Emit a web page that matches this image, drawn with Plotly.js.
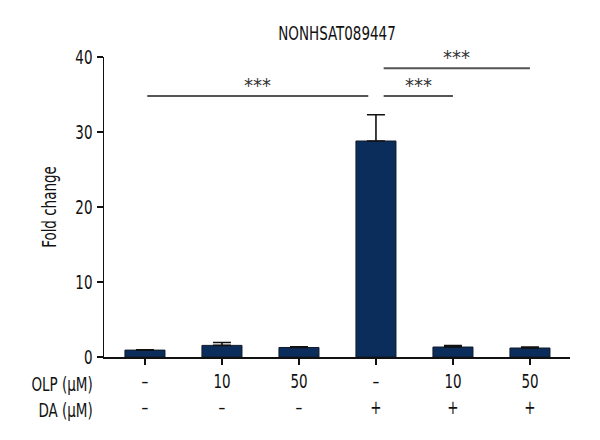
<!DOCTYPE html>
<html>
<head>
<meta charset="utf-8">
<script src="https://cdn.plot.ly/plotly-3.0.1.min.js"></script>
<style>html,body{margin:0;padding:0;background:#fff;}#chart{width:600px;height:440px;}</style>
</head>
<body>
<div id="chart"></div>
<script>
// ---- data ----
var olpLabels = ['–', '10', '50', '–', '10', '50'];
var daLabels  = ['–', '–', '–', '+', '+', '+'];
var foldChange = [0.92, 1.55, 1.27, 28.8, 1.33, 1.2];
var errUp      = [0.03, 0.38, 0.08, 3.5, 0.2, 0.12];
var sigFrom  = [0, 3, 3];
var sigTo    = [3, 4, 5];
var sigLevel = [34.8, 34.8, 38.5];
var sigText  = ['***', '***', '***'];
var titleText = 'NONHSAT089447';
var rowNames = ['OLP (μM)', 'DA (μM)'];

// ---- chart ----
var FONT = '"DejaVu Sans Condensed", "Liberation Sans Narrow", sans-serif';
var FS = 20;
var idx = olpLabels.map(function (_, i) { return i; });
var tickText = idx.map(function (i) { return olpLabels[i] + '<br>' + daLabels[i]; });

var trace = {
  type: 'bar',
  x: idx,
  y: foldChange,
  width: 0.52,
  marker: { color: '#0b2d5b', line: { color: '#111a2a', width: 1 } },
  error_y: { type: 'data', symmetric: false, array: errUp, arrayminus: idx.map(function(){return 0;}),
             color: '#111', thickness: 1.6, width: 9 },
  hoverinfo: 'none'
};

var pivot = 3;
var shapes = [];
var annotations = [];
for (var k = 0; k < sigFrom.length; k++) {
  var a = sigFrom[k], b = sigTo[k];
  var x0 = (a === pivot) ? a + 0.1 : a + 0.03;
  var x1 = (b === pivot) ? b - 0.1 : b;
  shapes.push({ type: 'line', xref: 'x', yref: 'y', x0: x0, x1: x1, y0: sigLevel[k], y1: sigLevel[k],
                line: { color: '#555', width: 2 } });
  annotations.push({ xref: 'x', yref: 'y', x: (x0 + x1) / 2, y: sigLevel[k], text: sigText[k],
                     showarrow: false, yanchor: 'bottom', yshift: -3,
                     font: { family: FONT, size: 20, color: '#333' } });
}
annotations.push({ xref: 'paper', yref: 'paper', x: -0.02, y: 0, xanchor: 'right', yanchor: 'top',
                   yshift: -13, align: 'right', showarrow: false,
                   text: rowNames[0] + '<br>' + rowNames[1],
                   font: { family: FONT, size: FS, color: '#111' } });

var layout = {
  width: 600, height: 440,
  margin: { l: 104, r: 30, t: 57, b: 83 },
  paper_bgcolor: '#fff', plot_bgcolor: '#fff',
  font: { family: FONT, size: FS, color: '#111' },
  showlegend: false,
  title: { text: titleText, x: 0.5, xref: 'paper', y: 0.925, yref: 'container', yanchor: 'middle',
           font: { family: FONT, size: FS, color: '#111' } },
  xaxis: {
    range: [-0.532, 5.52], tickvals: idx, ticktext: tickText,
    showgrid: false, zeroline: false, showline: true, linecolor: '#111', linewidth: 1.5,
    ticks: 'outside', ticklen: 6, tickwidth: 1.5, tickcolor: '#111',
    tickfont: { family: FONT, size: FS, color: '#111' }
  },
  yaxis: {
    range: [0, 40], tickvals: [0, 10, 20, 30, 40],
    showgrid: false, zeroline: false, showline: true, linecolor: '#111', linewidth: 1.5,
    ticks: 'outside', ticklen: 6, tickwidth: 1.5, tickcolor: '#111',
    tickfont: { family: FONT, size: FS, color: '#111' },
    title: { text: 'Fold change', standoff: 7, font: { family: FONT, size: FS, color: '#111' } }
  },
  shapes: shapes,
  annotations: annotations
};

// narrow the glyphs horizontally (the reference uses a tall condensed face)
function condense(s) {
  var texts = document.querySelectorAll('#chart svg text');
  texts.forEach(function (t) {
    if (t.textContent.indexOf('*') >= 0) return;
    var bb = t.getBBox();
    if (!bb.width) return;
    var anchor = t.getAttribute('text-anchor') || window.getComputedStyle(t).textAnchor || 'start';
    var ax = anchor === 'end' ? bb.x + bb.width : (anchor === 'middle' ? bb.x + bb.width / 2 : bb.x);
    var old = t.getAttribute('transform') || '';
    t.setAttribute('transform', old + ' translate(' + ax + ',0) scale(' + s + ',1) translate(' + (-ax) + ',0)');
  });
}

Plotly.newPlot('chart', [trace], layout, { staticPlot: true, displayModeBar: false })
  .then(function () { condense(0.75); });
</script>
</body>
</html>
